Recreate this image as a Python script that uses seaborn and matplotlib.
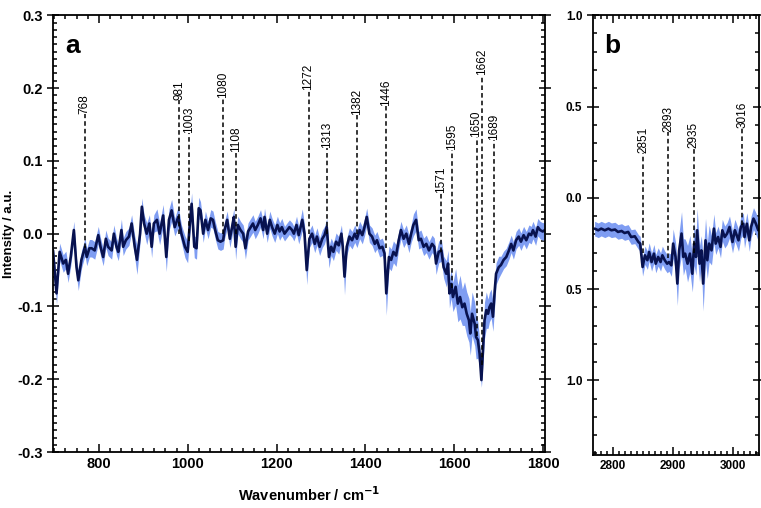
import numpy as np
import matplotlib
matplotlib.use("Agg")
from matplotlib import pyplot as plt
from matplotlib.ticker import MultipleLocator, FixedLocator, FixedFormatter
import seaborn as sns

# panel a : fingerprint region
wn_a = [697, 705, 712, 720, 726, 731, 737, 744, 750, 754,
        761, 769, 773, 779, 784, 791, 799, 804, 810, 816,
        821, 829, 834, 840, 844, 851, 855, 861, 868, 874,
        881, 886, 893, 897, 902, 908, 914, 919, 924, 931,
        937, 945, 952, 958, 964, 971, 979, 986, 994, 1000,
        1005, 1009, 1015, 1020, 1025, 1029, 1035, 1040, 1046, 1052,
        1057, 1062, 1068, 1074, 1080, 1083, 1089, 1095, 1100, 1104,
        1108, 1113, 1119, 1125, 1130, 1136, 1142, 1147, 1152, 1158,
        1164, 1170, 1173, 1179, 1185, 1190, 1196, 1202, 1207, 1212,
        1218, 1224, 1229, 1235, 1239, 1245, 1250, 1258, 1263, 1268,
        1274, 1280, 1286, 1291, 1297, 1303, 1308, 1313, 1318, 1323,
        1328, 1334, 1340, 1346, 1349, 1353, 1358, 1364, 1370, 1376,
        1381, 1387, 1393, 1398, 1403, 1409, 1415, 1421, 1426, 1432,
        1438, 1443, 1447, 1453, 1458, 1463, 1469, 1475, 1480, 1486,
        1492, 1498, 1503, 1508, 1514, 1520, 1525, 1531, 1537, 1543,
        1550, 1555, 1559, 1565, 1571, 1576, 1582, 1586, 1589, 1593,
        1597, 1603, 1608, 1613, 1618, 1623, 1628, 1633, 1636, 1640,
        1646, 1649, 1653, 1657, 1661, 1664, 1668, 1672, 1676, 1679,
        1683, 1687, 1691, 1694, 1700, 1705, 1711, 1717, 1723, 1728,
        1733, 1739, 1745, 1750, 1756, 1762, 1768, 1773, 1777, 1783,
        1788, 1793, 1799, 1804]
mean_a = [-0.023, -0.082, -0.025, -0.041, -0.036, -0.055, -0.032, 0.005, -0.046, -0.064,
          -0.036, -0.018, -0.032, -0.020, -0.020, -0.023, -0.002, -0.018, -0.032, -0.007,
          -0.018, -0.023, 0.000, -0.018, -0.025, 0.005, -0.018, -0.009, -0.004, 0.014,
          -0.018, -0.036, 0.000, 0.037, 0.014, 0.000, 0.014, -0.018, 0.014, 0.019,
          0.000, 0.025, -0.032, 0.019, 0.032, 0.009, 0.023, 0.000, -0.018, -0.025,
          0.014, 0.041, -0.018, -0.020, 0.035, 0.032, 0.000, 0.019, 0.005, 0.021,
          0.019, 0.005, -0.009, -0.011, -0.009, 0.005, 0.019, -0.007, 0.009, 0.023,
          -0.018, 0.012, 0.005, 0.000, -0.020, 0.003, 0.009, 0.014, 0.005, 0.012,
          0.021, 0.005, 0.023, 0.000, 0.019, 0.009, 0.000, 0.012, 0.003, 0.009,
          0.000, 0.005, 0.009, 0.005, 0.000, 0.012, -0.002, 0.019, 0.000, -0.050,
          -0.007, 0.000, -0.014, -0.004, -0.018, -0.007, -0.002, 0.009, -0.032, -0.018,
          -0.025, -0.011, -0.016, 0.000, -0.018, -0.059, -0.018, -0.004, -0.009, 0.000,
          -0.007, 0.005, -0.002, 0.009, 0.023, 0.000, -0.004, -0.014, -0.009, -0.020,
          -0.018, -0.027, -0.082, -0.032, -0.036, -0.025, -0.030, -0.009, 0.005, -0.007,
          0.000, -0.014, 0.000, 0.012, 0.019, -0.009, -0.007, -0.018, -0.014, -0.023,
          -0.014, -0.018, -0.041, -0.025, -0.023, -0.046, -0.055, -0.041, -0.082, -0.069,
          -0.087, -0.073, -0.096, -0.087, -0.101, -0.096, -0.110, -0.119, -0.137, -0.110,
          -0.124, -0.142, -0.146, -0.165, -0.201, -0.165, -0.119, -0.105, -0.110, -0.101,
          -0.096, -0.114, -0.078, -0.055, -0.046, -0.043, -0.036, -0.032, -0.023, -0.014,
          -0.023, -0.009, -0.004, -0.011, -0.002, -0.009, 0.000, -0.002, 0.005, -0.004,
          0.009, 0.005, 0.003, 0.005]
sd_a = [0.012, 0.015, 0.012, 0.012, 0.012, 0.012, 0.012, 0.012, 0.012, 0.014,
        0.012, 0.012, 0.012, 0.012, 0.012, 0.012, 0.012, 0.012, 0.012, 0.012,
        0.012, 0.012, 0.012, 0.012, 0.012, 0.015, 0.012, 0.012, 0.012, 0.012,
        0.015, 0.020, 0.012, 0.012, 0.012, 0.015, 0.012, 0.015, 0.012, 0.015,
        0.015, 0.015, 0.020, 0.015, 0.015, 0.012, 0.015, 0.012, 0.015, 0.015,
        0.015, 0.015, 0.015, 0.015, 0.015, 0.012, 0.012, 0.012, 0.012, 0.012,
        0.012, 0.012, 0.012, 0.012, 0.012, 0.012, 0.012, 0.012, 0.012, 0.012,
        0.018, 0.012, 0.012, 0.012, 0.015, 0.012, 0.012, 0.012, 0.012, 0.012,
        0.012, 0.012, 0.012, 0.012, 0.012, 0.012, 0.012, 0.012, 0.012, 0.012,
        0.010, 0.010, 0.010, 0.010, 0.010, 0.012, 0.012, 0.015, 0.012, 0.020,
        0.012, 0.012, 0.012, 0.012, 0.012, 0.012, 0.012, 0.012, 0.015, 0.012,
        0.012, 0.012, 0.012, 0.012, 0.012, 0.025, 0.012, 0.012, 0.012, 0.012,
        0.012, 0.012, 0.012, 0.012, 0.012, 0.012, 0.012, 0.012, 0.012, 0.012,
        0.012, 0.012, 0.030, 0.015, 0.015, 0.015, 0.015, 0.012, 0.012, 0.012,
        0.012, 0.012, 0.012, 0.015, 0.015, 0.012, 0.012, 0.012, 0.012, 0.012,
        0.012, 0.012, 0.015, 0.015, 0.015, 0.015, 0.018, 0.018, 0.020, 0.020,
        0.020, 0.025, 0.025, 0.030, 0.025, 0.030, 0.030, 0.030, 0.030, 0.030,
        0.030, 0.030, 0.025, 0.020, 0.010, 0.020, 0.025, 0.025, 0.020, 0.020,
        0.020, 0.020, 0.020, 0.015, 0.015, 0.012, 0.012, 0.012, 0.012, 0.012,
        0.012, 0.012, 0.012, 0.012, 0.012, 0.012, 0.012, 0.012, 0.012, 0.012,
        0.012, 0.012, 0.012, 0.012]

# panel b : CH stretching region
wn_b = [2770, 2776, 2781, 2787, 2793, 2798, 2804, 2809, 2815, 2820,
        2826, 2831, 2837, 2843, 2846, 2850, 2854, 2858, 2861, 2865,
        2869, 2872, 2876, 2880, 2883, 2887, 2891, 2894, 2898, 2901,
        2905, 2908, 2911, 2915, 2918, 2921, 2925, 2929, 2933, 2936,
        2939, 2941, 2945, 2948, 2951, 2955, 2958, 2961, 2965, 2969,
        2972, 2976, 2980, 2983, 2987, 2991, 2995, 3000, 3004, 3006,
        3010, 3014, 3018, 3020, 3024, 3028, 3031, 3035, 3039, 3043]
mean_b = [-0.169, -0.178, -0.169, -0.178, -0.169, -0.178, -0.174, -0.187, -0.182, -0.193,
          -0.187, -0.215, -0.211, -0.242, -0.251, -0.379, -0.315, -0.342, -0.297, -0.352,
          -0.306, -0.361, -0.324, -0.352, -0.315, -0.342, -0.361, -0.352, -0.370, -0.251,
          -0.324, -0.470, -0.288, -0.196, -0.324, -0.306, -0.361, -0.306, -0.416, -0.251,
          -0.324, -0.178, -0.361, -0.288, -0.470, -0.233, -0.342, -0.251, -0.288, -0.169,
          -0.251, -0.215, -0.269, -0.178, -0.215, -0.196, -0.160, -0.242, -0.178, -0.196,
          -0.233, -0.160, -0.142, -0.215, -0.142, -0.233, -0.160, -0.114, -0.142, -0.178]
sd_b = [0.04, 0.04, 0.04, 0.04, 0.04, 0.04, 0.04, 0.04, 0.04, 0.04,
        0.04, 0.04, 0.04, 0.04, 0.04, 0.05, 0.05, 0.05, 0.05, 0.05,
        0.05, 0.05, 0.05, 0.05, 0.05, 0.05, 0.05, 0.05, 0.06, 0.08,
        0.08, 0.12, 0.10, 0.12, 0.10, 0.08, 0.10, 0.10, 0.10, 0.12,
        0.10, 0.12, 0.10, 0.08, 0.15, 0.12, 0.10, 0.10, 0.08, 0.08,
        0.06, 0.06, 0.06, 0.06, 0.06, 0.06, 0.06, 0.06, 0.06, 0.06,
        0.06, 0.06, 0.06, 0.06, 0.06, 0.06, 0.06, 0.06, 0.06, 0.06]

# band assignments (position, top of dashed line, bottom of dashed line)
peaks_a = [768, 981, 1003, 1080, 1108, 1272, 1313, 1382, 1446, 1571, 1595, 1650, 1662, 1689]
peak_top_a = [0.165, 0.183, 0.138, 0.186, 0.112, 0.197, 0.117, 0.163, 0.176, 0.056, 0.115, 0.133, 0.218, 0.128]
peak_bot_a = [-0.02, 0.0, -0.01, 0.0, 0.0, 0.0, 0.0, 0.0, -0.02, -0.025, -0.075, -0.14, -0.18, -0.04]
peaks_b = [2851, 2893, 2935, 3016]
peak_top_b = [0.244, 0.36, 0.27, 0.38]
peak_bot_b = [-0.3, -0.33, -0.3, -0.15]

line_col = "#08124f"
band_col = "#7f9df2"

sns.set_style("ticks", {"axes.edgecolor": "black", "text.color": "black",
                        "xtick.color": "black", "ytick.color": "black",
                        "axes.labelcolor": "black"})
plt.rcParams["font.family"] = ["Liberation Sans", "DejaVu Sans"]
plt.rcParams["font.weight"] = "bold"
plt.rcParams["axes.unicode_minus"] = False

fig = plt.figure(figsize=(7.61, 5.08), dpi=100)
ax_a = fig.add_axes([0.0696, 0.110, 0.6465, 0.860])
ax_b = fig.add_axes([0.779, 0.104, 0.219, 0.866])


def draw_panel(ax, wn, mean, sd, peaks, tops, bots, fs):
    wn = np.array(wn)
    mean = np.array(mean)
    sd = np.array(sd)
    ax.fill_between(wn, mean - sd, mean + sd, color=band_col, lw=0)
    sns.lineplot(x=wn, y=mean, ax=ax, color=line_col, lw=1.9)
    for p, t, b in zip(peaks, tops, bots):
        ax.plot([p, p], [b, t], color="black", lw=1.1, ls=(0, (3, 2)))
        ax.text(p, t, p, rotation=90, ha="center", va="bottom",
                fontsize=fs, fontweight="normal")
    for s in ax.spines.values():
        s.set_linewidth(1.3)
        s.set_visible(True)
    ax.tick_params(which="both", direction="in", top=True, right=True, width=1.1)
    ax.tick_params(which="major", length=6)
    ax.tick_params(which="minor", length=3)
    ax.tick_params(axis="y", which="major", left=True, direction="inout", length=8)


draw_panel(ax_a, wn_a, mean_a, sd_a, peaks_a, peak_top_a, peak_bot_a, 8.5)
ax_a.set_xlim(697, 1804)
ax_a.set_ylim(-0.3, 0.3)
ax_a.xaxis.set_major_locator(MultipleLocator(200))
ax_a.xaxis.set_minor_locator(MultipleLocator(25))
ax_a.yaxis.set_major_locator(MultipleLocator(0.1))
ax_a.yaxis.set_minor_locator(MultipleLocator(0.01))
ax_a.set_yticklabels([f"{v:.1f}" for v in ax_a.get_yticks()])
ax_a.tick_params(labelsize=10.5)
ax_a.set_xlabel("Wavenumber / cm$^{\\mathbf{-1}}$", fontsize=10.5, fontweight="bold")
ax_a.xaxis.set_label_coords(0.52, -0.075)
ax_a.set_ylabel("Intensity / a.u.", fontsize=9.5, fontweight="bold")
ax_a.yaxis.set_label_coords(-0.077, 0.5)
ax_a.text(0.025, 0.93, "a", transform=ax_a.transAxes, fontsize=19, fontweight="bold", va="center")

draw_panel(ax_b, wn_b, mean_b, sd_b, peaks_b, peak_top_b, peak_bot_b, 8.5)
ax_b.set_xlim(2767, 3045)
ax_b.set_ylim(-1.41, 1.0)
ax_b.xaxis.set_major_locator(MultipleLocator(100))
ax_b.xaxis.set_minor_locator(MultipleLocator(10))
ax_b.yaxis.set_major_locator(FixedLocator([1.0, 0.5, 0.0, -0.5, -1.0]))
ax_b.yaxis.set_major_formatter(FixedFormatter(["1.0", "0.5", "0.0", "0.5", "1.0"]))
ax_b.yaxis.set_minor_locator(MultipleLocator(0.1))
ax_b.tick_params(labelsize=8.5)
ax_b.text(0.07, 0.93, "b", transform=ax_b.transAxes, fontsize=19, fontweight="bold", va="center")

fig.savefig("out.png", dpi=100)
